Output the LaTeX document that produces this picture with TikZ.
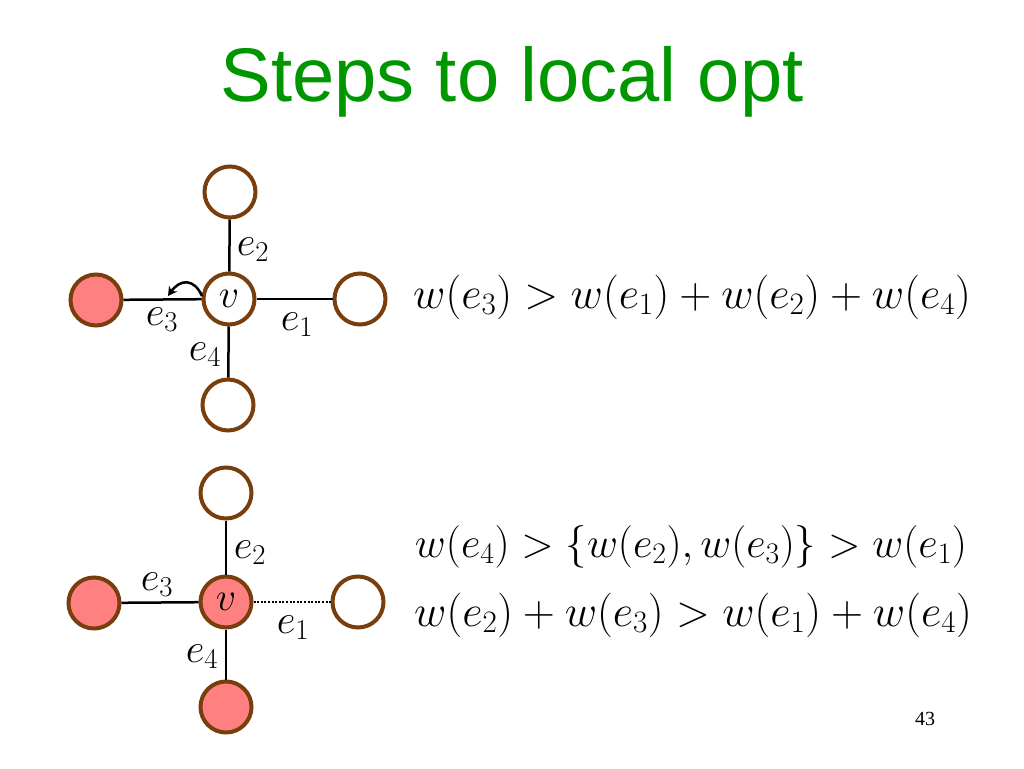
\documentclass[tikz,border=0pt]{standalone}
\usepackage{fix-cm}
\usepackage{fontspec}
\setmainfont{Liberation Serif}
\newfontfamily\titlefont{Liberation Sans}
\usetikzlibrary{arrows.meta}
\definecolor{titlegreen}{RGB}{0,150,0}
\definecolor{nodebrown}{RGB}{120,62,14}
\definecolor{nodepink}{RGB}{255,128,128}
\tikzset{
  vert/.style={circle, draw=nodebrown, line width=4pt, minimum size=51pt, inner sep=0pt, fill=white, font=\fontsize{40}{48}\selectfont},
  redvert/.style={vert, fill=nodepink},
  edge/.style={line width=2.5pt, black},
  dotedge/.style={line width=2.5pt, black, dash pattern=on 2pt off 1.6pt},
  lbl/.style={inner sep=0pt, font=\fontsize{41}{48}\selectfont},
  eqn/.style={inner sep=0pt, anchor=base, font=\fontsize{44.5}{52}\selectfont},
}
\begin{document}
\begin{tikzpicture}[x=1pt,y=-1pt]
\useasboundingbox[fill=white] (0,0) rectangle (1024,768);
\node[anchor=base, inner sep=0pt, text=titlegreen, font=\titlefont\fontsize{76}{90}\selectfont] (title) at (512,101) {Steps to local opt};

% top diagram
\node[vert] (v1) at (229,299) {$v$};
\node[vert] (t1) at (230,192) {};
\node[redvert] (l1) at (96,300) {};
\node[vert] (r1) at (360,299) {};
\node[vert] (b1) at (228,405) {};
\draw[edge] (v1) -- (t1);
\draw[edge] (v1) -- (l1);
\draw[edge] (v1) -- (r1);
\draw[edge] (v1) -- (b1);
\coordinate (as) at (202,296);
\coordinate (ae) at (168,296);
\draw[line width=2.5pt, -{Stealth[length=9pt,width=10pt]}] (as) .. controls (194,278) and (180,279) .. (ae);
\node[lbl] (e2a) at (253,250) {$e_2$};
\node[lbl] (e3a) at (162,320) {$e_3$};
\node[lbl] (e1a) at (297,325) {$e_1$};
\node[lbl] (e4a) at (205,355) {$e_4$};
\node[eqn] (eq1) at (692,308) {$w(e_3)>w(e_1)+w(e_2)+w(e_4)$};

% bottom diagram
\node[redvert] (v2) at (226,602) {$v$};
\node[vert] (t2) at (226,493) {};
\node[redvert] (l2) at (94,603) {};
\node[vert] (r2) at (358,602) {};
\node[redvert] (b2) at (226,707) {};
\draw[edge] (v2) -- (t2);
\draw[edge] (v2) -- (l2);
\draw[dotedge] (v2) -- (r2);
\draw[edge] (v2) -- (b2);
\node[lbl] (e2b) at (250,553) {$e_2$};
\node[lbl] (e3b) at (157,585) {$e_3$};
\node[lbl] (e1b) at (293,628) {$e_1$};
\node[lbl] (e4b) at (202,657) {$e_4$};
\node[eqn, font=\fontsize{42.6}{50}\selectfont] (eq2) at (691,557) {$w(e_4)>\{w(e_2),w(e_3)\}>w(e_1)$};
\node[eqn] (eq3) at (693,626) {$w(e_2)+w(e_3)>w(e_1)+w(e_4)$};

\node[anchor=base, inner sep=0pt, font=\fontsize{20}{24}\selectfont] (pg) at (925,725) {43};
\end{tikzpicture}
\end{document}
